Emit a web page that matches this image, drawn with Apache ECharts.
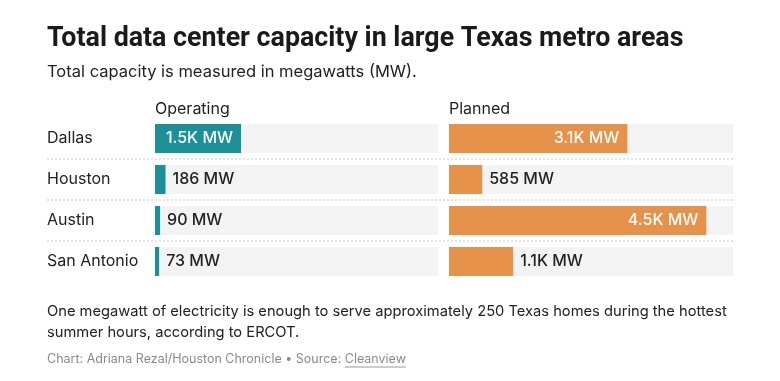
<!DOCTYPE html>
<html>
<head>
<meta charset="utf-8">
<script src="https://cdn.jsdelivr.net/npm/echarts@6/dist/echarts.min.js"></script>
<style>
html,body{margin:0;padding:0;background:#fff;}
#chart{width:780px;height:381px;}
</style>
</head>
<body>
<div id="chart"></div>
<script>
const cities = ['Dallas', 'Houston', 'Austin', 'San Antonio'];
const operating = [1520, 186, 90, 73];
const planned = [3140, 585, 4530, 1130];
const axisMax = 5000;
const insideThreshold = 1400;

const TEAL = '#1b9098';
const ORANGE = '#e6924b';
const BG = '#f3f3f3';
const TXT = '#222222';
const FONT = 'Inter, "Noto Sans", sans-serif';

function fmt(v) {
  return v >= 1000 ? (v / 1000).toFixed(1) + 'K MW' : v + ' MW';
}
function mkData(arr) {
  return arr.map(v => {
    const inside = v >= insideThreshold;
    return {
      value: v,
      label: {
        position: inside ? 'insideRight' : 'right',
        color: inside ? '#ffffff' : TXT,
        distance: inside ? 8 : 7
      }
    };
  });
}

const chart = echarts.init(document.getElementById('chart'), null, {renderer: 'canvas'});
const rowTop = 118, rowPitch = 41;
const barLabel = {show: true, fontFamily: FONT, fontSize: 16, fontWeight: 500, formatter: p => fmt(p.value)};
const CREDIT = 'Chart: Adriana Rezal/Houston Chronicle • Source: ';
const CREDIT_TOP = 353;

const option = {
  animation: false,
  backgroundColor: '#ffffff',
  title: [
    {text: 'Total data center capacity in large Texas metro areas', left: 47, top: 26, padding: 0,
     textStyle: {fontFamily: 'Roboto, sans-serif', fontWeight: 700, fontSize: 26.8, color: '#1a1a1a'}},
    {text: 'Total capacity is measured in megawatts (MW).', left: 47, top: 64, padding: 0,
     textStyle: {fontFamily: FONT, fontWeight: 400, fontSize: 16.5, color: TXT}},
    {text: 'Operating', left: 155, top: 101, padding: 0,
     textStyle: {fontFamily: FONT, fontWeight: 400, fontSize: 16, color: TXT}},
    {text: 'Planned', left: 449, top: 101, padding: 0,
     textStyle: {fontFamily: FONT, fontWeight: 400, fontSize: 16, color: TXT}},
    {text: 'One megawatt of electricity is enough to serve approximately 250 Texas homes during the hottest\nsummer hours, according to ERCOT.',
     left: 47, top: 301, padding: 0,
     textStyle: {fontFamily: FONT, fontWeight: 400, fontSize: 14.7, lineHeight: 21, color: TXT}}
  ],
  graphic: [
    {type: 'text', left: 47, top: CREDIT_TOP,
     style: {text: CREDIT, font: '12.5px ' + FONT, fill: '#8a8a8a'}},
    {type: 'text', id: 'src', left: 346, top: CREDIT_TOP,
     style: {text: 'Cleanview', font: '12.5px ' + FONT, fill: '#8a8a8a'}}
  ],
  grid: [
    {left: 155, width: 283, top: rowTop, height: rowPitch * 4},
    {left: 449, width: 284, top: rowTop, height: rowPitch * 4},
    {left: 47, width: 686, top: rowTop + rowPitch, height: rowPitch * 2}
  ],
  xAxis: [
    {gridIndex: 0, type: 'value', min: 0, max: axisMax, show: false},
    {gridIndex: 1, type: 'value', min: 0, max: axisMax, show: false},
    {gridIndex: 2, type: 'value', min: 0, max: 1, show: false}
  ],
  yAxis: [
    {gridIndex: 0, type: 'category', data: cities, inverse: true,
     axisLine: {show: false}, axisTick: {show: false},
     axisLabel: {align: 'left', margin: 108, fontFamily: FONT, fontSize: 16, color: TXT}},
    {gridIndex: 1, type: 'category', data: cities, inverse: true,
     axisLine: {show: false}, axisTick: {show: false}, axisLabel: {show: false}},
    {gridIndex: 2, type: 'value', min: 0, max: 2, interval: 1,
     axisLine: {show: false}, axisTick: {show: false}, axisLabel: {show: false},
     splitLine: {show: true, lineStyle: {color: '#dcdcdc', width: 1.5, type: [2, 2]}}}
  ],
  series: [
    {type: 'bar', xAxisIndex: 0, yAxisIndex: 0, data: mkData(operating), barWidth: 29,
     itemStyle: {color: TEAL}, showBackground: true, backgroundStyle: {color: BG},
     label: barLabel},
    {type: 'bar', xAxisIndex: 1, yAxisIndex: 1, data: mkData(planned), barWidth: 29,
     itemStyle: {color: ORANGE}, showBackground: true, backgroundStyle: {color: BG},
     label: barLabel}
  ]
};
chart.setOption(option);

// place "Cleanview" right after the credit text and underline it
const list = chart.getZr().storage.getDisplayList();
const credEl = list.find(d => d.style && d.style.text === CREDIT);
const srcEl = list.find(d => d.style && d.style.text === 'Cleanview');
if (credEl && srcEl) {
  const cr = credEl.getBoundingRect();
  const sr = srcEl.getBoundingRect();
  const cx = 47 + cr.width;
  chart.setOption({graphic: [
    {type: 'text', left: 47, top: CREDIT_TOP, style: {text: CREDIT, font: '12.5px ' + FONT, fill: '#8a8a8a'}},
    {type: 'text', id: 'src', left: cx, top: CREDIT_TOP, style: {text: 'Cleanview', font: '12.5px ' + FONT, fill: '#8a8a8a'}},
    {type: 'rect', left: cx, top: CREDIT_TOP + sr.height + 0.5, shape: {x: 0, y: 0, width: sr.width, height: 1}, style: {fill: '#9a9a9a'}}
  ]});
}
</script>
</body>
</html>
